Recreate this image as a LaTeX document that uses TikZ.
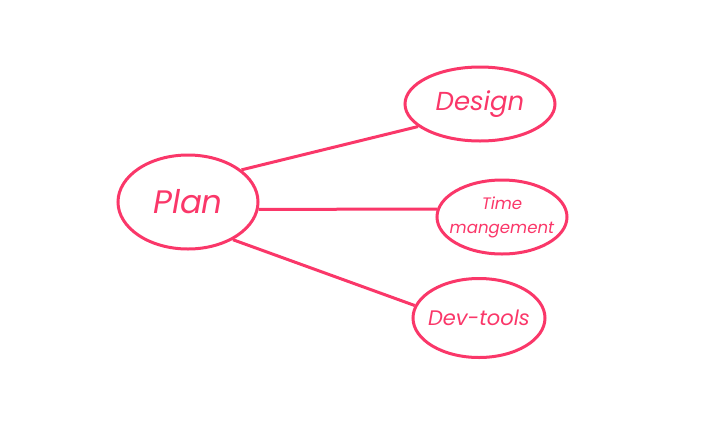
\documentclass[tikz,border=0pt]{standalone}
\usepackage{fontspec}
\setmainfont{Poppins}
\usetikzlibrary{shapes.geometric}
\definecolor{rosered}{RGB}{250,55,105}

\begin{document}
\begin{tikzpicture}[x=1pt, y=-1pt,
        topic/.style={draw=rosered, line width=3pt, ellipse, inner sep=-15pt, text=rosered, font=\itshape},
        link/.style={draw=rosered, line width=3pt}]
            \useasboundingbox (0, 0) rectangle (718, 440);
            \node[topic, minimum width=140pt, minimum height=94pt, font=\itshape\fontsize{32.5}{33}\selectfont] (plan) at (188, 202) {Plan};
            \node[topic, minimum width=150pt, minimum height=74pt, font=\itshape\fontsize{26}{26}\selectfont] (design) at (480, 104) {Design};
            \node[topic, minimum width=130pt, minimum height=74pt, align=center, font=\itshape\fontsize{16.6}{24}\selectfont] (time) at (502, 217) {Time\\mangement};
            \node[topic, minimum width=132pt, minimum height=79pt, font=\itshape\fontsize{21}{21}\selectfont] (devtools) at (479, 318) {Dev-tools};
            \draw[link] (plan.31) -- (design.200);
            \draw[link] (plan.-6) -- (time.173);
            \draw[link] (plan.-40) -- (devtools.169);
        \end{tikzpicture}
\end{document}
